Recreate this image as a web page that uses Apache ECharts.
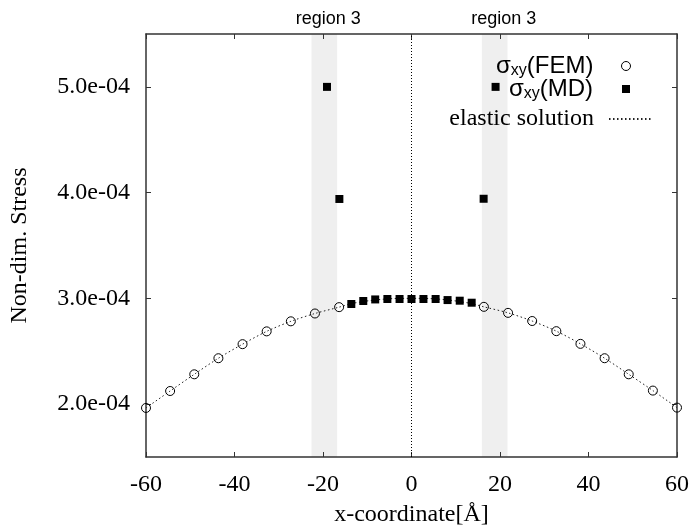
<!DOCTYPE html>
<html><head><meta charset="utf-8">
<script src="https://cdn.jsdelivr.net/npm/echarts@6/dist/echarts.min.js"></script>
<style>html,body{margin:0;padding:0;background:#fff}#c{width:693px;height:532px}</style>
</head><body><div id="c"></div>
<script>
// ---- data ----
const femX = [-60, -54.55, -49.09, -43.64, -38.18, -32.73, -27.27, -21.82, -16.36,
              16.36, 21.82, 27.27, 32.73, 38.18, 43.64, 49.09, 54.55, 60];
const femY = [1.964e-4, 2.124e-4, 2.282e-4, 2.434e-4, 2.567e-4, 2.688e-4, 2.783e-4, 2.857e-4, 2.917e-4,
              2.920e-4, 2.863e-4, 2.786e-4, 2.690e-4, 2.570e-4, 2.434e-4, 2.282e-4, 2.128e-4, 1.967e-4];

const mdX = [-19.1, -16.3, -13.6, -10.9, -8.2, -5.45, -2.7, 0, 2.7, 5.45, 8.15, 10.9, 13.6, 16.3, 19.0];
const mdY = [5.0e-4, 3.94e-4, 2.947e-4, 2.975e-4, 2.990e-4, 2.994e-4, 2.994e-4, 2.994e-4, 2.994e-4,
             2.994e-4, 2.984e-4, 2.978e-4, 2.959e-4, 3.942e-4, 5.0e-4];

const elasticX = [-60, -54.55, -49.09, -43.64, -38.18, -32.73, -27.27, -21.82, -16.36,
                  -13.6, -10.9, -8.2, -5.45, -2.7, 0, 2.7, 5.45, 8.2, 10.9, 13.6,
                  16.36, 21.82, 27.27, 32.73, 38.18, 43.64, 49.09, 54.55, 60];
const elasticY = [1.964e-4, 2.124e-4, 2.282e-4, 2.434e-4, 2.567e-4, 2.688e-4, 2.783e-4, 2.857e-4, 2.917e-4,
                  2.950e-4, 2.970e-4, 2.985e-4, 2.995e-4, 3.0e-4, 3.0e-4, 3.0e-4, 2.995e-4, 2.985e-4, 2.970e-4, 2.950e-4,
                  2.920e-4, 2.863e-4, 2.786e-4, 2.690e-4, 2.570e-4, 2.434e-4, 2.282e-4, 2.128e-4, 1.967e-4];

const regionBands = [[-22.6, -16.8], [15.9, 21.7]];
const regionLabels = ['region 3', 'region 3'];
const yTicks = [2e-4, 3e-4, 4e-4, 5e-4];
const xMin = -60, xMax = 60, xStep = 20;
const yMin = 1.5e-4, yMax = 5.5e-4;
const legendNames = ['FEM', 'MD', 'elastic solution'];
// --------------------------------------

const zip = (a, b) => a.map((v, i) => [v, b[i]]);
function fmtExp(v) {
  const parts = v.toExponential(1).split('e');
  let e = parseInt(parts[1], 10);
  const sign = e < 0 ? '-' : '+';
  e = Math.abs(e);
  return parts[0] + 'e' + sign + (e < 10 ? '0' + e : e);
}

const serif = 'Liberation Serif';
const sans = 'Liberation Sans';
const axisCol = '#333';

const chart = echarts.init(document.getElementById('c'), null, {renderer: 'canvas'});

const xBase = {
  type: 'value', min: xMin, max: xMax, interval: xStep,
  axisLine: {show: true, onZero: false, lineStyle: {color: axisCol, width: 1.5}},
  axisTick: {show: true, inside: true, length: 5, lineStyle: {color: axisCol, width: 1}},
  splitLine: {show: false}
};
const yBase = {
  type: 'value', min: yMin, max: yMax,
  axisLine: {show: true, onZero: false, lineStyle: {color: axisCol, width: 1.5}},
  axisTick: {show: true, inside: true, length: 5, customValues: yTicks, lineStyle: {color: axisCol, width: 1}},
  splitLine: {show: false}
};

const richSans = {
  s: {fontFamily: sans, fontSize: 24, color: '#000'},
  sub: {fontFamily: sans, fontSize: 16, color: '#000', padding: [10, 0, 0, 0]}
};

const option = {
  animation: false,
  backgroundColor: '#fff',
  grid: {left: 144, right: 16, top: 34, bottom: 68, containLabel: false},
  xAxis: [
    Object.assign({}, xBase, {
      position: 'bottom',
      axisLabel: {margin: 16, fontFamily: serif, fontSize: 24, color: '#000'},
      name: 'x-coordinate[Å]', nameLocation: 'middle', nameGap: 46,
      nameTextStyle: {fontFamily: serif, fontSize: 24, color: '#000'}
    }),
    Object.assign({}, xBase, {position: 'top', axisLabel: {show: false}})
  ],
  yAxis: [
    Object.assign({}, yBase, {
      position: 'left',
      axisLabel: {customValues: yTicks, margin: 16, fontFamily: serif, fontSize: 24, color: '#000', formatter: fmtExp},
      name: 'Non-dim. Stress', nameLocation: 'middle', nameGap: 114,
      nameTextStyle: {fontFamily: serif, fontSize: 24, color: '#000'}
    }),
    Object.assign({}, yBase, {position: 'right', axisLabel: {show: false}})
  ],
  legend: [
    {
      data: [{name: legendNames[0], icon: 'circle', itemStyle: {color: 'rgba(0,0,0,0)', borderColor: '#000', borderWidth: 1}}],
      right: 62, top: 54, padding: 0, align: 'right', orient: 'vertical',
      itemWidth: 9, itemHeight: 9, selectedMode: false,
      formatter: () => '{s|σ}{sub|xy}{s|(FEM)}',
      textStyle: {rich: richSans, padding: [0, 23, 0, 0]}
    },
    {
      data: [{name: legendNames[1], icon: 'rect', itemStyle: {color: '#000', borderWidth: 0, opacity: 1}}],
      right: 63, top: 77, padding: 0, align: 'right', orient: 'vertical',
      itemWidth: 8, itemHeight: 8, selectedMode: false,
      formatter: () => '{s|σ}{sub|xy}{s|(MD)}',
      textStyle: {rich: richSans, padding: [0, 24, 0, 0]}
    },
    {
      data: [{name: legendNames[2], itemStyle: {color: 'rgba(0,0,0,0)', borderColor: 'rgba(0,0,0,0)', borderWidth: 0}}],
      right: 40, top: 107, padding: 0, align: 'right', orient: 'vertical',
      itemWidth: 43, itemHeight: 10, selectedMode: false,
      textStyle: {fontFamily: serif, fontSize: 24, color: '#000', padding: [0, 10, 0, 0]}
    }
  ],
  series: [
    {
      name: legendNames[2], type: 'line', data: zip(elasticX, elasticY),
      symbol: 'none', smooth: 0.3, z: 2,
      itemStyle: {color: '#222'},
      lineStyle: {color: '#222', width: 1, type: [1.5, 2.5]},
      markArea: {
        silent: true, z: 0,
        itemStyle: {color: '#efefef'},
        label: {show: true, position: 'top', distance: 6, fontFamily: sans, fontSize: 18, color: '#000'},
        data: regionBands.map((b, i) => [
          {xAxis: b[0], name: regionLabels[i], label: {offset: [i === 0 ? 4 : 9, 0]}},
          {xAxis: b[1]}
        ])
      },
      markLine: {
        silent: true, symbol: ['none', 'none'], label: {show: false},
        lineStyle: {color: '#000', width: 1, type: [1, 2]},
        data: [{xAxis: 0}]
      }
    },
    {
      name: legendNames[0], type: 'scatter', data: zip(femX, femY),
      symbol: 'circle', symbolSize: 9, z: 3,
      itemStyle: {color: 'rgba(0,0,0,0)', borderColor: '#000', borderWidth: 1, opacity: 1}
    },
    {
      name: legendNames[1], type: 'scatter', data: zip(mdX, mdY),
      symbol: 'rect', symbolSize: 8, z: 4,
      itemStyle: {color: '#000', opacity: 1}
    }
  ]
};
chart.setOption(option);
</script></body></html>
